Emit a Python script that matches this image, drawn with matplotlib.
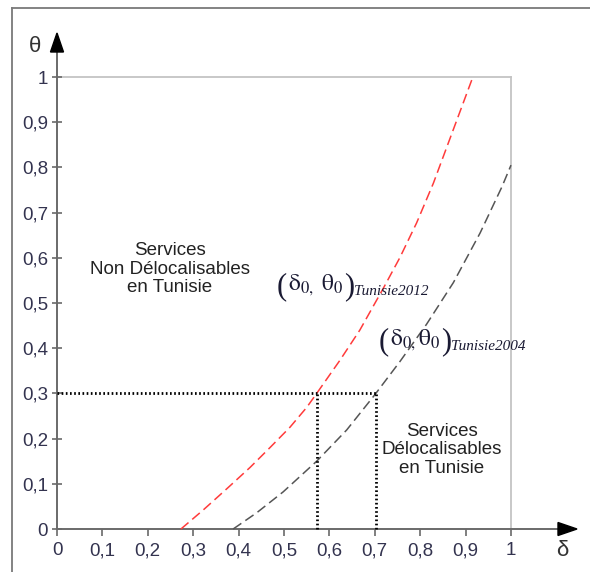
import matplotlib
matplotlib.use("Agg")
import matplotlib.pyplot as plt
from matplotlib.lines import Line2D

# ---- data ----
ticks = [0, 0.1, 0.2, 0.3, 0.4, 0.5, 0.6, 0.7, 0.8, 0.9, 1]
tick_labels = ["0", "0,1", "0,2", "0,3", "0,4", "0,5", "0,6", "0,7", "0,8", "0,9", "1"]

red_delta = [0.273, 0.322, 0.374, 0.425, 0.469, 0.513, 0.550, 0.572, 0.623, 0.667,
             0.719, 0.755, 0.792, 0.829, 0.916]
red_theta = [0.0, 0.042, 0.089, 0.136, 0.180, 0.225, 0.269, 0.300, 0.373, 0.440,
             0.533, 0.600, 0.677, 0.765, 1.0]

gray_delta = [0.388, 0.440, 0.498, 0.572, 0.638, 0.700, 0.755, 0.814, 0.873, 0.932, 0.980, 1.0]
gray_theta = [0.0, 0.036, 0.082, 0.150, 0.219, 0.297, 0.370, 0.453, 0.545, 0.655, 0.757, 0.805]

theta_ref = 0.3
delta_2012 = 0.572
delta_2004 = 0.703

plt.rcParams["mathtext.fontset"] = "stix"

# ---- figure ----
W, H = 590, 572
fig = plt.figure(figsize=(W / 100, H / 100), dpi=100)
fig.patch.set_facecolor("white")
ax = fig.add_axes([0, 0, 1, 1])

x0, x1 = 57, 511   # pixel x of delta=0 and delta=1
y0, y1 = 529, 77   # pixel y of theta=0 and theta=1
sx = x1 - x0
sy = y0 - y1
ax.set_xlim(-x0 / sx, (W - x0) / sx)
ax.set_ylim(-(H - y0) / sy, y0 / sy)
ax.set_facecolor("white")

def px2d(px, py):
    return (px - x0) / sx, (y0 - py) / sy

for s in ["top", "right"]:
    ax.spines[s].set_visible(False)
axis_col = "#6a6a6a"
ax.spines["left"].set_position(("data", 0))
ax.spines["bottom"].set_position(("data", 0))
for s in ["left", "bottom"]:
    ax.spines[s].set_color(axis_col)
    ax.spines[s].set_linewidth(1.4)
ax.spines["left"].set_bounds(0, px2d(0, 52)[1])
ax.spines["bottom"].set_bounds(0, px2d(558, 0)[0])

lab_col = "#33334f"
ax.set_xticks(ticks)
ax.set_xticklabels(tick_labels, fontsize=13.5, family="Liberation Sans", color=lab_col)
ax.set_yticks(ticks)
ax.set_yticklabels(tick_labels, fontsize=13.5, family="Liberation Sans", color=lab_col)
ax.tick_params(axis="x", direction="out", length=5, width=1.2, color=axis_col, pad=4.5)
ax.tick_params(axis="y", direction="inout", length=7, width=1.2, color=axis_col, pad=3)

# arrow heads
tx, ty = px2d(0, 33)
bx, by = px2d(0, 52)
hw = 6.5 / sx
ax.fill([0, -hw, hw], [ty, by, by], color="black", zorder=5, clip_on=False)
tx2, _ = px2d(577, 0)
bx2, _ = px2d(558, 0)
hh = 6.5 / sy
ax.fill([tx2, bx2, bx2], [0, hh, -hh], color="black", zorder=5, clip_on=False)

# axis symbols
ax.text(*px2d(35, 46), "θ", fontsize=16, family="Liberation Sans", color="#333333",
        ha="center", va="center")
ax.text(*px2d(562, 551), "δ", fontsize=16, family="Liberation Sans", color="#333333",
        ha="center", va="center")

# light gray unit box
ax.plot([0, 1], [1, 1], color="#c4c4c4", lw=1.3, zorder=1)
ax.plot([1, 1], [0, 1], color="#c4c4c4", lw=1.3, zorder=1)

# curves
ax.plot(red_delta, red_theta, color="#ff3b3b", lw=1.1, dashes=(6.5, 3.2), zorder=3)
ax.plot(gray_delta, gray_theta, color="#555555", lw=1.1, dashes=(6.5, 3.2), zorder=3)

# dotted reference lines
dot = dict(color="black", lw=2.0, linestyle=(0, (0.6, 0.9)), zorder=4)
ax.plot([0, delta_2004], [theta_ref, theta_ref], **dot)
ax.plot([delta_2012, delta_2012], [0, theta_ref], **dot)
ax.plot([delta_2004, delta_2004], [0, theta_ref], **dot)

# region labels
ax.text(*px2d(170, 269), "Services\nNon Délocalisables\nen Tunisie", fontsize=13.5,
        family="Liberation Sans", color="#222222", ha="center", va="center",
        linespacing=1.1)
ax.text(*px2d(442, 450), "Services\nDélocalisables\nen Tunisie", fontsize=13.5,
        family="Liberation Sans", color="#222222", ha="center", va="center",
        linespacing=1.1)

# curve labels built from pieces
lc = "#1a1a33"

def curve_label(px, py, inner, sub):
    p1 = ax.text(*px2d(px, py), "(", fontsize=22, family="Liberation Serif",
                 color=lc, ha="left", va="center")
    mid = ax.annotate(inner, xy=(1, 0.5), xycoords=p1, xytext=(0.5, 1.5),
                      textcoords="offset points", fontsize=17, color=lc,
                      ha="left", va="center")
    p2 = ax.annotate(")", xy=(1, 0.5), xycoords=mid, xytext=(0.5, -1.5),
                     textcoords="offset points", fontsize=22, family="Liberation Serif",
                     color=lc, ha="left", va="center")
    ax.annotate(sub, xy=(1, 0), xycoords=p2, xytext=(0, 2.5), textcoords="offset points",
                fontsize=11, family="Liberation Serif", style="italic", color=lc,
                ha="left", va="bottom")

curve_label(277, 287, r"$\mathrm{\delta}_{0,}\ \mathrm{\theta}_0$", "Tunisie2012")
curve_label(379, 342, r"$\mathrm{\delta}_{0,}\mathrm{\theta}_0$", "Tunisie2004")

# outer frame (top and left only)
fr = "#7a7a7a"
fig.add_artist(Line2D([12 / W, 12 / W], [1 - 8 / H, 0], transform=fig.transFigure,
                      color=fr, lw=1.3))
fig.add_artist(Line2D([12 / W, 1], [1 - 8 / H, 1 - 8 / H], transform=fig.transFigure,
                      color=fr, lw=1.3))

fig.savefig("out.png", dpi=100, facecolor="white")
